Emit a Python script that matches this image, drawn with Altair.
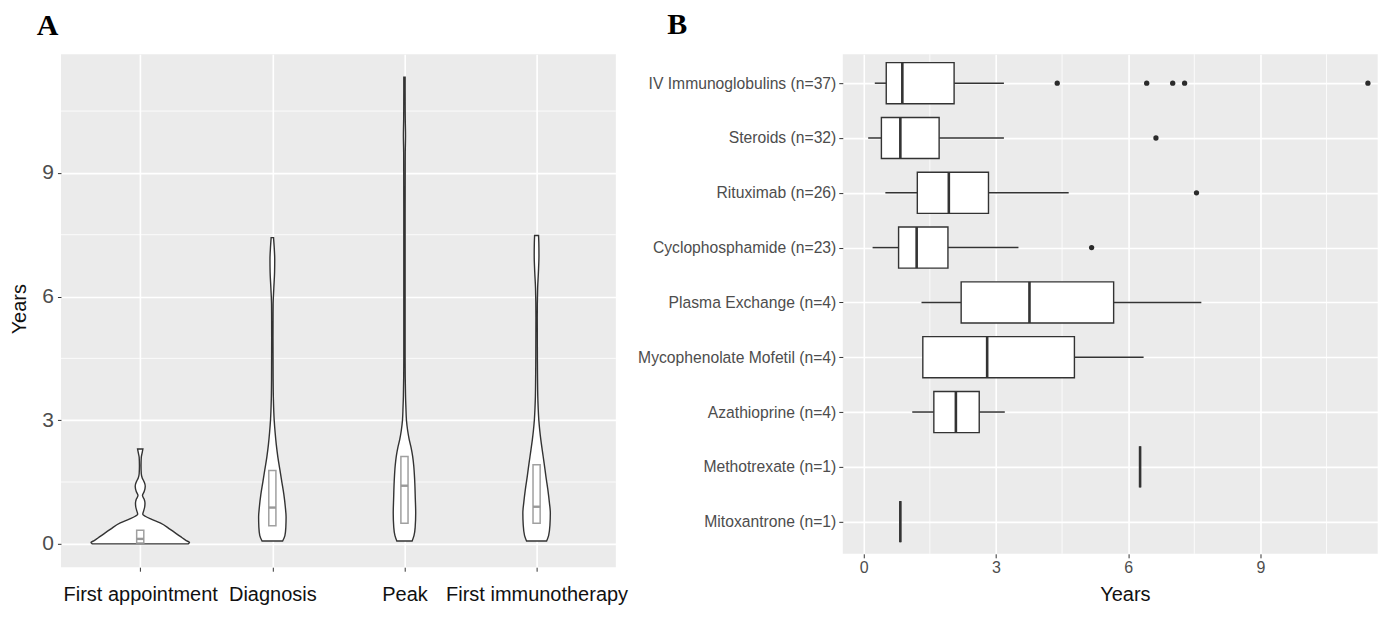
import json
import altair as alt
import pandas as pd

# ---------------- Panel A data ----------------
stages = ["First appointment", "Diagnosis", "Peak", "First immunotherapy"]

fa_years = [0.0, 0.03, 0.08, 0.18, 0.35, 0.51, 0.60, 0.67, 0.72, 0.80, 0.90, 0.99, 1.08, 1.17, 1.27, 1.40, 1.50, 1.60, 1.70, 1.90, 2.10, 2.20, 2.30]
fa_width = [0.363, 0.373, 0.348, 0.303, 0.227, 0.151, 0.083, 0.038, 0.019, 0.026, 0.034, 0.036, 0.030, 0.017, 0.030, 0.038, 0.030, 0.015, 0.008, 0.006, 0.008, 0.014, 0.020]

dx_years = [0.07, 0.2, 0.4, 0.65, 0.9, 1.2, 1.5, 1.8, 2.1, 2.4, 2.7, 3.0, 3.5, 4.0, 5.0, 5.8, 6.2, 6.6, 6.9, 7.2, 7.43]
dx_width = [0.078, 0.095, 0.102, 0.104, 0.098, 0.087, 0.072, 0.057, 0.042, 0.030, 0.021, 0.014, 0.008, 0.006, 0.005, 0.006, 0.011, 0.017, 0.018, 0.014, 0.009]

pk_years = [0.07, 0.2, 0.4, 0.75, 1.1, 1.56, 1.9, 2.12, 2.35, 2.53, 2.75, 3.0, 3.3, 3.6, 4.5, 6.0, 8.0, 9.5, 9.9, 10.3, 11.0, 11.32]
pk_width = [0.058, 0.072, 0.081, 0.085, 0.082, 0.077, 0.070, 0.062, 0.049, 0.036, 0.024, 0.015, 0.011, 0.008, 0.005, 0.005, 0.005, 0.006, 0.008, 0.006, 0.005, 0.005]

fi_years = [0.07, 0.2, 0.45, 0.75, 1.0, 1.32, 1.65, 1.96, 2.25, 2.53, 2.75, 3.0, 3.3, 3.58, 4.5, 5.5, 6.2, 6.6, 7.0, 7.3, 7.48]
fi_width = [0.076, 0.091, 0.101, 0.104, 0.097, 0.085, 0.070, 0.057, 0.044, 0.032, 0.024, 0.017, 0.012, 0.009, 0.006, 0.005, 0.008, 0.014, 0.018, 0.017, 0.015]

box_q1_A = [0.02, 0.44, 0.50, 0.50]
box_med_A = [0.12, 0.88, 1.41, 0.90]
box_q3_A = [0.33, 1.78, 2.12, 1.92]

y_ticks_A = [0, 3, 6, 9]
y_minor_A = [1.5, 4.5, 7.5, 10.5]

# ---------------- Panel B data ----------------
treatments = [
    "IV Immunoglobulins (n=37)", "Steroids (n=32)", "Rituximab (n=26)",
    "Cyclophosphamide (n=23)", "Plasma Exchange (n=4)", "Mycophenolate Mofetil (n=4)",
    "Azathioprine (n=4)", "Methotrexate (n=1)", "Mitoxantrone (n=1)",
]
whisk_lo = [0.25, 0.10, 0.49, 0.20, 1.31, 1.34, 1.10, 6.27, 0.83]
q1 = [0.51, 0.40, 1.215, 0.79, 2.21, 1.34, 1.59, 6.27, 0.83]
med = [0.875, 0.83, 1.93, 1.20, 3.76, 2.80, 2.09, 6.27, 0.83]
q3 = [2.05, 1.71, 2.83, 1.91, 5.67, 4.78, 2.62, 6.27, 0.83]
whisk_hi = [3.18, 3.18, 4.65, 3.51, 7.66, 6.35, 3.20, 6.27, 0.83]

outlier_group = [0, 0, 0, 0, 0, 1, 2, 3]
outlier_value = [4.39, 6.42, 7.01, 7.28, 11.44, 6.63, 7.55, 5.17]

x_ticks_B = [0, 3, 6, 9]
x_minor_B = [1.5, 4.5, 7.5, 10.5]

# ---------------- build tables ----------------
profiles = [(fa_years, fa_width), (dx_years, dx_width), (pk_years, pk_width), (fi_years, fi_width)]
vrows = []
for i, (ys, ws) in enumerate(profiles):
    for y, w in zip(ys, ws):
        vrows.append({"stage": stages[i], "pos": i + 1, "years": y, "hw": w})
violin_df = pd.DataFrame(vrows)

boxA_df = pd.DataFrame({"stage": stages, "pos": list(range(1, 5)),
                        "q1": box_q1_A, "med": box_med_A, "q3": box_q3_A})
minorA_df = pd.DataFrame({"v": y_minor_A})

boxB_df = pd.DataFrame({"name": treatments, "idx": list(range(len(treatments))),
                        "lo": whisk_lo, "q1": q1, "med": med, "q3": q3, "hi": whisk_hi})
outB_df = pd.DataFrame({"idx": outlier_group, "value": outlier_value})
minorB_df = pd.DataFrame({"v": x_minor_B})

FONT = "Liberation Sans"
GRID_W = 1.6
MINOR_W = 0.8
INK = "#333333"

# ---------------- Panel A ----------------
stage_expr = "[''," + ",".join(json.dumps(s) for s in stages) + "][datum.value]"
xA_scale = alt.Scale(domain=[0.4, 4.6], nice=False, zero=False)
yA_scale = alt.Scale(domain=[-0.567, 11.88], nice=False, zero=False)
xA_axis = alt.Axis(values=[1, 2, 3, 4], labelExpr=stage_expr, title=None, grid=True,
                   gridColor="white", gridWidth=GRID_W, tickSize=4, tickColor=INK,
                   labelFontSize=20, labelFont=FONT, labelColor="#111111", labelPadding=13.5,
                   domain=False, labelAngle=0, labelLimit=400, labelOverlap=False)
yA_axis = alt.Axis(values=y_ticks_A, title="Years", grid=True, gridColor="white",
                   gridWidth=GRID_W, tickSize=3.5, tickColor=INK, labelFontSize=21,
                   labelFont=FONT, labelColor="#4D4D4D", labelPadding=4, domain=False,
                   titleFont=FONT, titleFontSize=20, titleColor="#111111",
                   titleFontWeight="normal", titleX=-35, titleY=254.7,
                   titleBaseline="alphabetic", titleAngle=270)


def xA(field):
    return alt.X(field, type="quantitative", scale=xA_scale, axis=xA_axis, stack=None)


def yA(field):
    return alt.Y(field, type="quantitative", scale=yA_scale, axis=yA_axis)


minorA = alt.Chart(minorA_df).mark_rule(color="white", strokeWidth=MINOR_W).encode(y=yA("v"))

violins = alt.Chart(violin_df).transform_calculate(
    xl="datum.pos - datum.hw", xr="datum.pos + datum.hw"
).mark_area(orient="horizontal", fill="white", stroke=INK, strokeWidth=1.4,
            interpolate="monotone").encode(
    y=yA("years"), x=xA("xl"), x2="xr", detail="stage:N"
)

inner_box = alt.Chart(boxA_df).transform_calculate(
    bl="datum.pos - 0.027", br="datum.pos + 0.027"
).mark_rect(fill="white", fillOpacity=0, stroke="#A0A0A0", strokeWidth=1.5).encode(
    x=xA("bl"), x2="br", y=yA("q1"), y2="q3"
)

inner_med = alt.Chart(boxA_df).transform_calculate(
    bl="datum.pos - 0.027", br="datum.pos + 0.027"
).mark_rule(color="#999999", strokeWidth=2.4).encode(
    x=xA("bl"), x2="br", y=yA("med")
)

panelA = alt.layer(minorA, violins, inner_box, inner_med).properties(
    width=555.3, height=513.4,
    title=alt.TitleParams("A", anchor="start", frame="group", font="Liberation Serif",
                          fontSize=30, fontWeight="bold", color="black", dx=-24.3,
                          offset=-10.7, baseline="alphabetic")
)

# ---------------- Panel B ----------------
name_expr = "[" + ",".join(json.dumps(s) for s in treatments) + "][datum.value]"
xB_scale = alt.Scale(domain=[-0.476, 11.662], nice=False, zero=False)
yB_scale = alt.Scale(domain=[-0.529, 8.587], nice=False, zero=False, reverse=True)
xB_axis = alt.Axis(values=x_ticks_B, title="Years", grid=True, gridColor="white",
                   gridWidth=GRID_W, tickSize=4, tickColor=INK, labelFontSize=16,
                   labelFont=FONT, labelColor="#4D4D4D", labelPadding=2, domain=False,
                   titleFont=FONT, titleFontSize=20, titleColor="#111111",
                   titleFontWeight="normal", titleX=282.3, titleY=46.4,
                   titleBaseline="alphabetic", labelAngle=0)
yB_axis = alt.Axis(values=list(range(len(treatments))), labelExpr=name_expr, title=None,
                   grid=True, gridColor="white", gridWidth=GRID_W, tickSize=4,
                   tickColor=INK, labelFontSize=15.7, labelFont=FONT,
                   labelColor="#4D4D4D", labelPadding=3, domain=False, labelLimit=400,
                   labelOverlap=False)


def xB(field):
    return alt.X(field, type="quantitative", scale=xB_scale, axis=xB_axis)


def yB(field):
    return alt.Y(field, type="quantitative", scale=yB_scale, axis=yB_axis)


minorB = alt.Chart(minorB_df).mark_rule(color="white", strokeWidth=MINOR_W).encode(x=xB("v"))

whisk_left = alt.Chart(boxB_df).mark_rule(color=INK, strokeWidth=1.5).encode(
    x=xB("lo"), x2="q1", y=yB("idx"))
whisk_right = alt.Chart(boxB_df).mark_rule(color=INK, strokeWidth=1.5).encode(
    x=xB("q3"), x2="hi", y=yB("idx"))

boxes = alt.Chart(boxB_df).transform_calculate(
    yl="datum.idx - 0.375", yh="datum.idx + 0.375"
).mark_rect(fill="white", stroke=INK, strokeWidth=1.4).encode(
    x=xB("q1"), x2="q3", y=yB("yl"), y2="yh")

medians = alt.Chart(boxB_df).transform_calculate(
    yl="datum.idx - 0.375", yh="datum.idx + 0.375"
).mark_rule(color=INK, strokeWidth=2.6).encode(
    x=xB("med"), y=yB("yl"), y2="yh")

outliers = alt.Chart(outB_df).mark_circle(color="#2b2b2b", opacity=1, size=28).encode(
    x=xB("value"), y=yB("idx"))

panelB = alt.layer(minorB, whisk_left, whisk_right, boxes, medians, outliers).properties(
    width=535.3, height=500,
    title=alt.TitleParams("B", anchor="start", frame="group", font="Liberation Serif",
                          fontSize=30, fontWeight="bold", color="black", dx=-175.7,
                          offset=-10.7, baseline="alphabetic")
)

chart = alt.hconcat(panelA, panelB, spacing=226.4, bounds="flush").properties(
    padding={"left": 2, "top": 2, "right": 0, "bottom": 0},
    background="white",
).configure_view(fill="#EBEBEB", stroke=None)

chart.save("out.html", embed_options={"renderer": "svg", "actions": False})
